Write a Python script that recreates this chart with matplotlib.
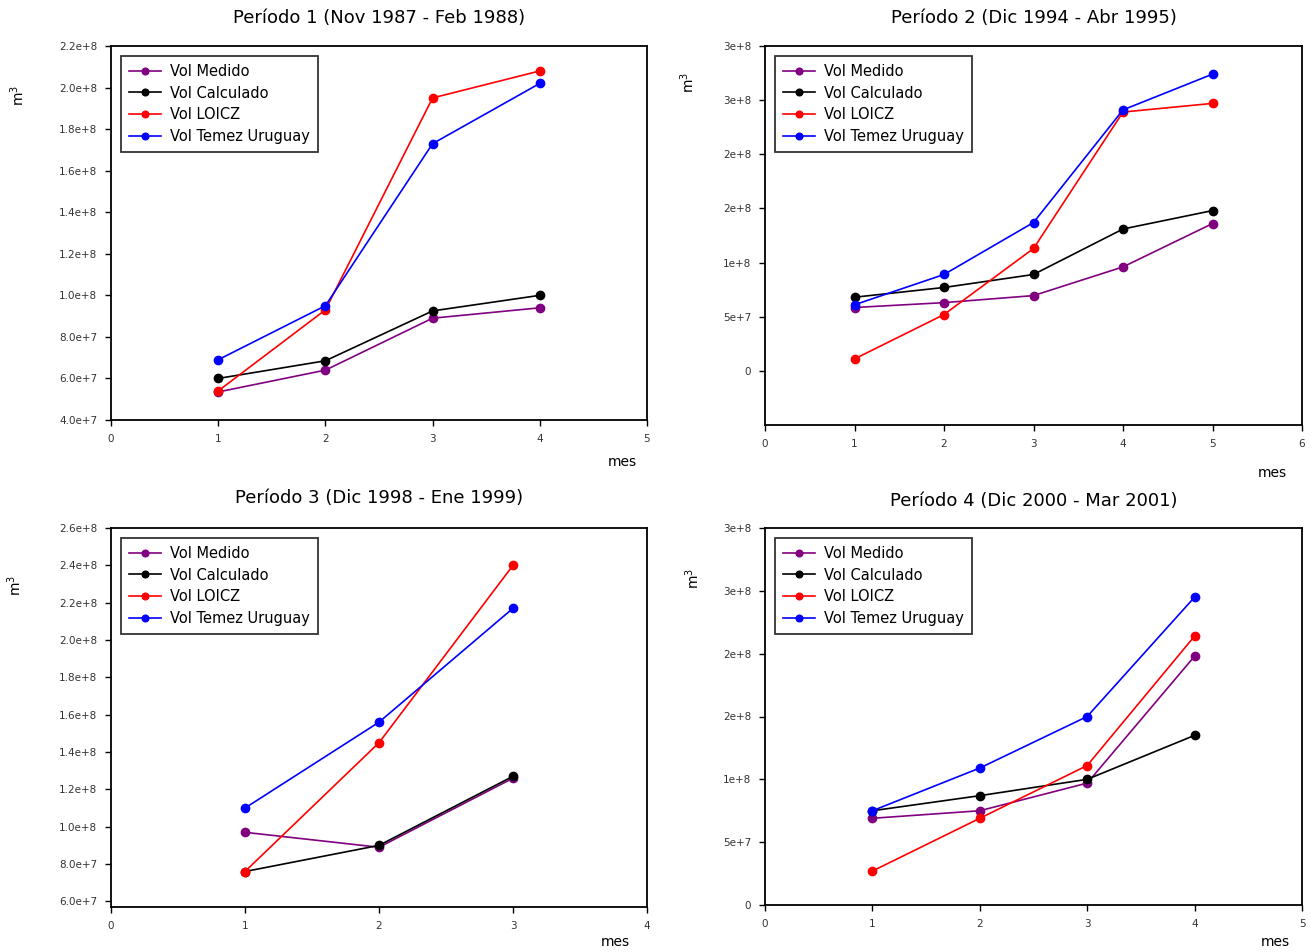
import matplotlib
matplotlib.use("Agg")
import matplotlib.pyplot as plt

# series names and colours
series = ['Vol Medido', 'Vol Calculado', 'Vol LOICZ', 'Vol Temez Uruguay']
colors = ['#800080', '#000000', '#ff0000', '#0000ff']

# Periodo 1
titulo1 = 'Período 1 (Nov 1987 - Feb 1988)'
mes1 = [1, 2, 3, 4]
medido1 = [5.35e7, 6.4e7, 8.9e7, 9.4e7]
calculado1 = [6.0e7, 6.85e7, 9.25e7, 1.0e8]
loicz1 = [5.4e7, 9.3e7, 1.95e8, 2.08e8]
temez1 = [6.9e7, 9.5e7, 1.73e8, 2.02e8]

# Periodo 2
titulo2 = 'Período 2 (Dic 1994 - Abr 1995)'
mes2 = [1, 2, 3, 4, 5]
medido2 = [5.85e7, 6.3e7, 6.95e7, 9.6e7, 1.36e8]
calculado2 = [6.8e7, 7.7e7, 8.9e7, 1.31e8, 1.48e8]
loicz2 = [1.1e7, 5.2e7, 1.13e8, 2.39e8, 2.47e8]
temez2 = [6.1e7, 8.9e7, 1.37e8, 2.41e8, 2.74e8]

# Periodo 3
titulo3 = 'Período 3 (Dic 1998 - Ene 1999)'
mes3 = [1, 2, 3]
medido3 = [9.7e7, 8.9e7, 1.26e8]
calculado3 = [7.6e7, 9.0e7, 1.27e8]
loicz3 = [7.6e7, 1.45e8, 2.4e8]
temez3 = [1.1e8, 1.56e8, 2.17e8]

# Periodo 4
titulo4 = 'Período 4 (Dic 2000 - Mar 2001)'
mes4 = [1, 2, 3, 4]
medido4 = [6.9e7, 7.5e7, 9.7e7, 1.98e8]
calculado4 = [7.5e7, 8.7e7, 1.0e8, 1.35e8]
loicz4 = [2.7e7, 6.9e7, 1.11e8, 2.14e8]
temez4 = [7.5e7, 1.09e8, 1.5e8, 2.45e8]

# y ticks as the original software printed them
yt1 = [4e7, 6e7, 8e7, 1e8, 1.2e8, 1.4e8, 1.6e8, 1.8e8, 2.0e8, 2.2e8]
yl1 = ['4.0e+7', '6.0e+7', '8.0e+7', '1.0e+8', '1.2e+8', '1.4e+8', '1.6e+8', '1.8e+8', '2.0e+8', '2.2e+8']
yt2 = [0, 5e7, 1e8, 1.5e8, 2e8, 2.5e8, 3e8]
yl2 = ['0', '5e+7', '1e+8', '2e+8', '2e+8', '3e+8', '3e+8']
yt3 = [6e7, 8e7, 1e8, 1.2e8, 1.4e8, 1.6e8, 1.8e8, 2.0e8, 2.2e8, 2.4e8, 2.6e8]
yl3 = ['6.0e+7', '8.0e+7', '1.0e+8', '1.2e+8', '1.4e+8', '1.6e+8', '1.8e+8', '2.0e+8', '2.2e+8', '2.4e+8', '2.6e+8']

W, H = 1312, 952
fig = plt.figure(figsize=(W / 100, H / 100), dpi=100)


def px_axes(l, t, r, b):
    return fig.add_axes([l / W, 1 - b / H, (r - l) / W, (b - t) / H])


def draw(ax, x, data, title, xmax, ylim, yt, yl, mes_pos, m3_pos, title_y):
    for vals, name, c in zip(data, series, colors):
        ax.plot(x, vals, color=c, lw=1.2, marker='o', ms=6, label=name)
    ax.set_xlim(0, xmax)
    ax.set_ylim(*ylim)
    ax.set_xticks(range(0, xmax + 1))
    ax.set_yticks(yt)
    ax.set_yticklabels(yl)
    ax.tick_params(direction='out', length=4, width=1, labelsize=7.5,
                   labelcolor='#333333', pad=6)
    for s in ax.spines.values():
        s.set_linewidth(1.3)
    w = ax.get_position().width * W
    h = ax.get_position().height * H
    leg = ax.legend(loc='upper left', fontsize=10.5, frameon=True, fancybox=False,
                    edgecolor='black', handlelength=2.2, handletextpad=0.6,
                    borderpad=0.55, labelspacing=0.45, markerscale=0.8,
                    borderaxespad=0,
                    bbox_to_anchor=(10 / w, 1 - 10 / h))
    leg.get_frame().set_linewidth(1.3)
    ax.set_title(title, fontsize=13, y=title_y)
    fig.text(mes_pos[0] / W, 1 - mes_pos[1] / H, 'mes', fontsize=10,
             ha='center', va='center')
    fig.text(m3_pos[0] / W, 1 - m3_pos[1] / H, 'm$^3$', fontsize=10,
             ha='center', va='center', rotation=90)


ax1 = px_axes(111, 46, 647, 420)
draw(ax1, mes1, [medido1, calculado1, loicz1, temez1], titulo1, 5,
     (4e7, 2.2e8), yt1, yl1, (622, 462), (18, 95), 1.04)

ax2 = px_axes(765, 46, 1302, 425)
draw(ax2, mes2, [medido2, calculado2, loicz2, temez2], titulo2, 6,
     (-5e7, 3e8), yt2, yl2, (1272, 473), (688, 82), 1.04)

ax3 = px_axes(111, 528, 647, 907)
draw(ax3, mes3, [medido3, calculado3, loicz3, temez3], titulo3, 4,
     (5.7e7, 2.6e8), yt3, yl3, (615, 942), (15, 585), 1.045)

ax4 = px_axes(765, 528, 1302, 905)
draw(ax4, mes4, [medido4, calculado4, loicz4, temez4], titulo4, 5,
     (0, 3e8), yt2, yl2, (1275, 942), (693, 578), 1.035)

fig.savefig('out.png', dpi=100)
